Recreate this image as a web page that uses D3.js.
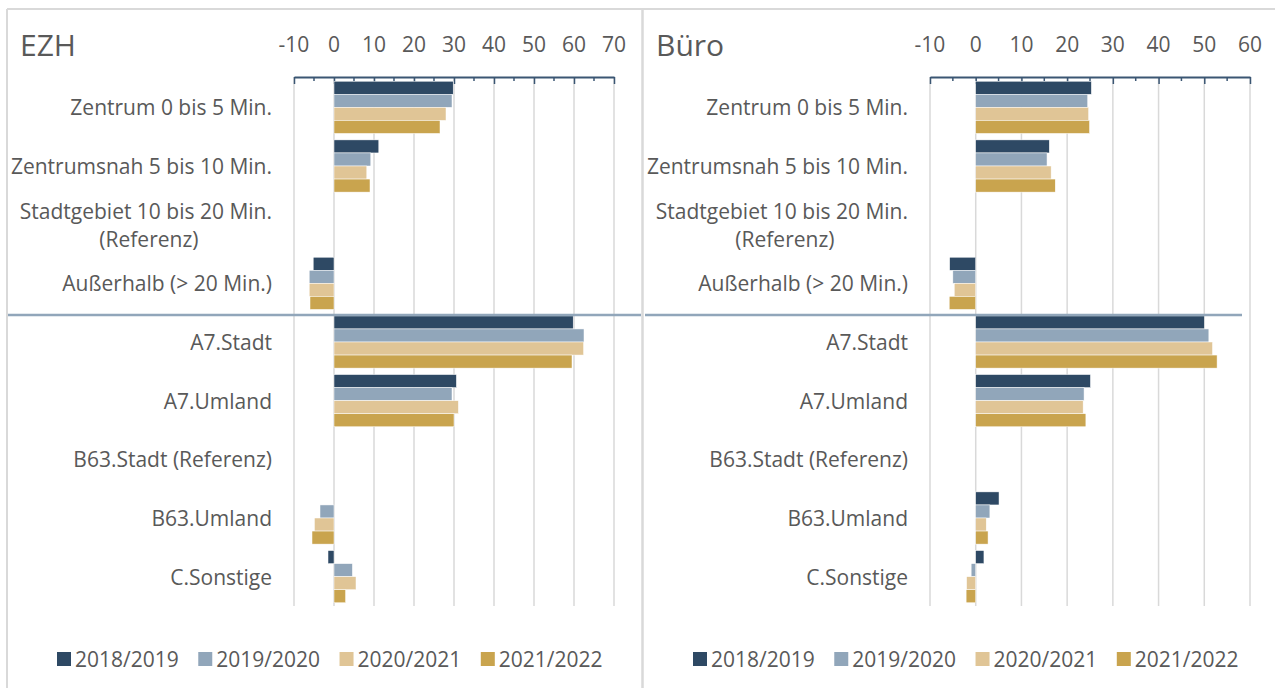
<!DOCTYPE html>
<html>
<head>
<meta charset="utf-8">
<script src="https://cdn.jsdelivr.net/npm/d3@7"></script>
<style>
  html, body { margin: 0; padding: 0; background: #ffffff; }
  svg { display: block; }
  text { font-family: "Open Sans", Lato, sans-serif; fill: #595959; }
</style>
</head>
<body>
<svg id="chart" width="1275" height="688"></svg>
<script>
// ---- data ----
const categories = [
  "Zentrum 0 bis 5 Min.",
  "Zentrumsnah 5 bis 10 Min.",
  "Stadtgebiet 10 bis 20 Min.|(Referenz)",
  "Außerhalb (> 20 Min.)",
  "A7.Stadt",
  "A7.Umland",
  "B63.Stadt (Referenz)",
  "B63.Umland",
  "C.Sonstige"
];
const seriesNames = ["2018/2019", "2019/2020", "2020/2021", "2021/2022"];
const seriesColors = ["#2e4964", "#91a6ba", "#e0c596", "#c9a44e"];

// EZH values per series (in category order)
const ezh2018 = [29.8, 11.2, 0, -5.2, 59.8, 30.6, 0, 0, -1.5];
const ezh2019 = [29.5, 9.2, 0, -6.2, 62.5, 29.5, 0, -3.5, 4.6];
const ezh2020 = [28.0, 8.2, 0, -6.2, 62.4, 31.1, 0, -4.9, 5.5];
const ezh2021 = [26.5, 9.0, 0, -6.0, 59.5, 30.0, 0, -5.5, 2.9];

// Büro values per series
const buero2018 = [25.3, 16.1, 0, -5.7, 50.0, 25.1, 0, 5.1, 1.8];
const buero2019 = [24.5, 15.6, 0, -5.0, 51.0, 23.7, 0, 3.1, -1.0];
const buero2020 = [24.7, 16.5, 0, -4.7, 51.8, 23.5, 0, 2.3, -2.0];
const buero2021 = [24.9, 17.4, 0, -5.8, 52.8, 24.1, 0, 2.7, -2.1];

const ezhTicks = [-10, 0, 10, 20, 30, 40, 50, 60, 70];
const bueroTicks = [-10, 0, 10, 20, 30, 40, 50, 60];

const panels = [
  { title: "EZH", series: [ezh2018, ezh2019, ezh2020, ezh2021], ticks: ezhTicks,
    domain: [-10, 70], x0: 294, x1: 614, titleX: 20, labelEnd: 272,
    sepX: [8, 641], legendX: 57 },
  { title: "Büro", series: [buero2018, buero2019, buero2020, buero2021], ticks: bueroTicks,
    domain: [-10, 60], x0: 930, x1: 1250, titleX: 656, labelEnd: 908,
    sepX: [645, 1242], legendX: 693 }
];

const svg = d3.select("#chart");
const yTop = 78, yBot = 606;
const axisY = 77;

const y = d3.scaleBand().domain(categories).range([yTop, yBot]).paddingInner(0.11).paddingOuter(0.055);
const ySub = d3.scaleBand().domain(seriesNames).range([0, y.bandwidth()]).padding(0);

// frame
svg.append("line").attr("x1", 7).attr("x2", 1275).attr("y1", 9).attr("y2", 9)
  .attr("stroke", "#d9d9d9").attr("stroke-width", 2);
svg.append("line").attr("x1", 7).attr("x2", 7).attr("y1", 9).attr("y2", 688)
  .attr("stroke", "#d9d9d9").attr("stroke-width", 2);
svg.append("line").attr("x1", 642.5).attr("x2", 642.5).attr("y1", 9).attr("y2", 688)
  .attr("stroke", "#d9d9d9").attr("stroke-width", 2.5);

panels.forEach(p => {
  const g = svg.append("g");
  const x = d3.scaleLinear().domain(p.domain).range([p.x0, p.x1]);

  // title
  g.append("text").attr("x", p.titleX).attr("y", 56).attr("font-size", 30).text(p.title);

  // gridlines
  g.selectAll(".grid").data(p.ticks).join("line")
    .attr("x1", d => x(d)).attr("x2", d => x(d))
    .attr("y1", axisY).attr("y2", yBot)
    .attr("stroke", "#d9d9d9").attr("stroke-width", 1.5);

  // tick labels
  g.selectAll(".tl").data(p.ticks).join("text")
    .attr("x", d => x(d)).attr("y", 52)
    .attr("text-anchor", "middle").attr("font-size", 21)
    .text(d => d);

  // axis line with ticks (major every 10, minor every 5)
  const axisG = g.append("g").attr("transform", `translate(0,${axisY})`);
  axisG.call(d3.axisBottom(x).tickValues(p.ticks).tickSize(7).tickSizeOuter(0).tickFormat(""));
  const minor = d3.range(p.domain[0] + 5, p.domain[1], 10);
  axisG.selectAll(".minor").data(minor).join("line")
    .attr("x1", d => x(d)).attr("x2", d => x(d)).attr("y1", 0).attr("y2", 4)
    .attr("stroke", "#3b5673").attr("stroke-width", 1.5);
  axisG.select(".domain").attr("stroke", "#3b5673").attr("stroke-width", 2);
  axisG.selectAll(".tick line").attr("stroke", "#3b5673").attr("stroke-width", 1.5);

  // bars
  p.series.forEach((vals, si) => {
    g.selectAll(".bar" + si).data(vals.map((v, i) => ({ v, c: categories[i] })))
      .join("rect")
      .filter(d => d.v !== 0)
      .attr("x", d => x(Math.min(0, d.v)))
      .attr("width", d => Math.abs(x(d.v) - x(0)))
      .attr("y", d => y(d.c) + ySub(seriesNames[si]))
      .attr("height", ySub.bandwidth())
      .attr("fill", seriesColors[si])
      .attr("stroke", "#ffffff").attr("stroke-width", 0.5);
  });

  // separator line
  g.append("line").attr("x1", p.sepX[0]).attr("x2", p.sepX[1])
    .attr("y1", 315).attr("y2", 315)
    .attr("stroke", "#91a6ba").attr("stroke-width", 2.5);

  // category labels
  categories.forEach(c => {
    const cy = y(c) + y.bandwidth() / 2;
    const parts = c.split("|");
    if (parts.length === 1) {
      g.append("text").attr("x", p.labelEnd).attr("y", cy + 8)
        .attr("text-anchor", "end").attr("font-size", 21).text(c);
    } else {
      const t1 = g.append("text").attr("x", p.labelEnd).attr("y", cy - 6)
        .attr("text-anchor", "end").attr("font-size", 21).text(parts[0]);
      const w = t1.node().getComputedTextLength();
      g.append("text").attr("x", p.labelEnd - w / 2 + 3).attr("y", cy + 22)
        .attr("text-anchor", "middle").attr("font-size", 21).text(parts[1]);
    }
  });

  // legend
  let lx = p.legendX;
  seriesNames.forEach((s, i) => {
    g.append("rect").attr("x", lx).attr("y", 652).attr("width", 14).attr("height", 14)
      .attr("fill", seriesColors[i]);
    const t = g.append("text").attr("x", lx + 18).attr("y", 667).attr("font-size", 21).text(s);
    lx += 18 + t.node().getComputedTextLength() + 19.5;
  });
});
</script>
</body>
</html>
